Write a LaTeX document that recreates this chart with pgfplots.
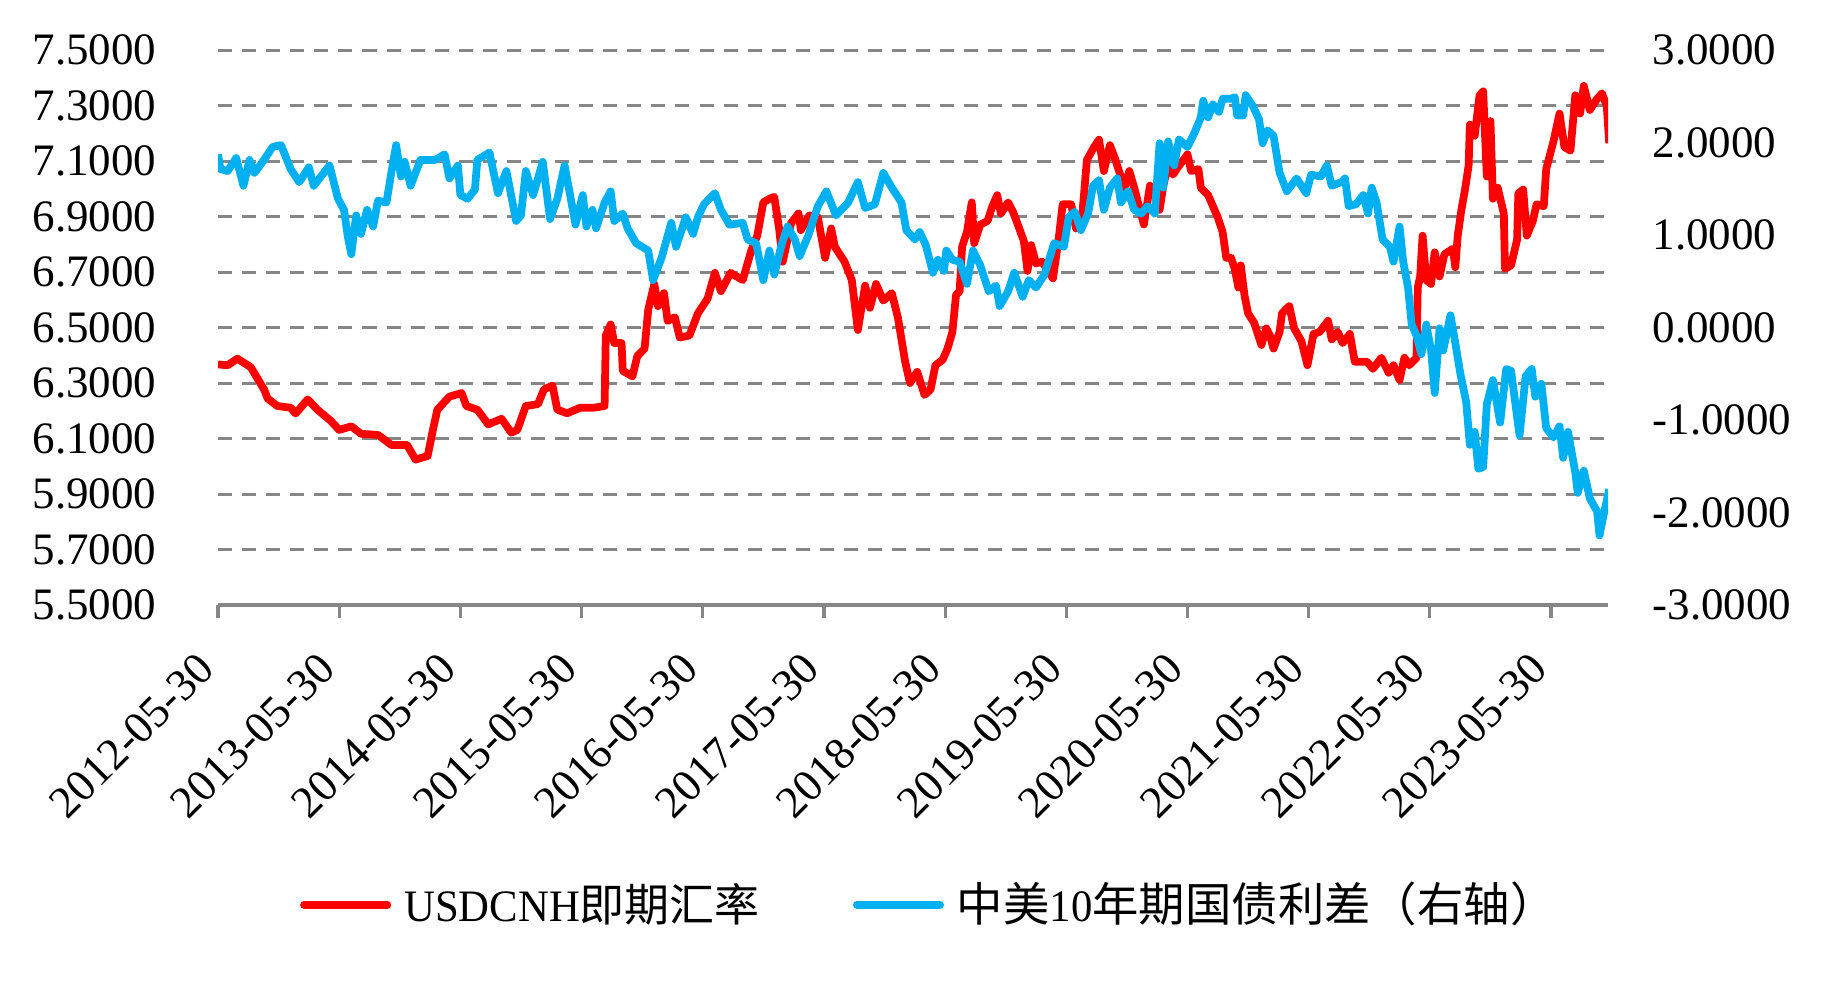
\documentclass[border=0pt]{standalone}
\usepackage{pgfplots}
\pgfplotsset{compat=1.18}
\usepackage{fontspec}
\setmainfont{Liberation Serif}
\newfontfamily\cjk{Noto Sans CJK SC}
\newfontfamily\leglatin[FakeStretch=0.95]{Liberation Serif}
\definecolor{cnhred}{HTML}{FF0000}
\definecolor{sprblue}{HTML}{00B0F0}
\definecolor{gridgray}{HTML}{868686}
\newcommand{\tfont}{\fontsize{12.8}{15}\selectfont}
\begin{document}
\begin{tikzpicture}
\pgfplotsset{
  base/.style={
    width=13.90cm, height=5.55cm, scale only axis,
    xmin=0, xmax=11.47,
    tick label style={font=\tfont},
    /pgf/number format/.cd, fixed, fixed zerofill, precision=4, assume math mode=true, /pgfplots/.cd,
    scaled y ticks=false,
  }
}
\begin{axis}[base,
  at={(0,0)}, anchor=south west,
  ymin=5.5, ymax=7.5,
  ytick={5.5,5.7,5.9,6.1,6.3,6.5,6.7,6.9,7.1,7.3,7.5},
  axis x line*=bottom, axis y line*=left,
  y axis line style={draw=none},
  x axis line style={draw=gridgray, line width=0.9pt, -},
  ytick style={draw=none},
  xtick={0,1,2,3,4,5,6,7,8,9,10,11},
  xticklabels={2012-05-30,2013-05-30,2014-05-30,2015-05-30,2016-05-30,2017-05-30,2018-05-30,2019-05-30,2020-05-30,2021-05-30,2022-05-30,2023-05-30},
  xtick style={draw=gridgray, line width=0.9pt},
  tick align=outside, major tick length=0.13cm,
  xticklabel style={xshift=-0.12cm, yshift=-0.43cm, rotate=45, anchor=east, inner sep=0pt},
  yticklabel style={anchor=east, inner sep=0pt, xshift=-0.48cm},
  ymajorgrids, grid style={draw=gridgray, line width=0.85pt, dash pattern=on 4pt off 2.85pt},
  legend style={at={(0.511,-0.54)}, anchor=center, draw=none, fill=none, font=\tfont,
    legend columns=2, nodes={inner sep=0pt},
    /tikz/every odd column/.append style={column sep=0.13cm},
    /tikz/every even column/.append style={column sep=0.93cm}},
  legend image code/.code={\draw[#1, line width=2.3pt, line cap=round] (0cm,0cm) -- (0.83cm,0cm);},
]
\addplot[cnhred, line width=2.2pt, line join=round, no marks] coordinates {
(0.00,6.367) (0.08,6.364) (0.16,6.388) (0.27,6.357) (0.38,6.277) (0.41,6.244) (0.49,6.217) (0.60,6.211) (0.64,6.190) (0.74,6.241)
(0.82,6.204) (0.93,6.164) (1.00,6.131) (1.10,6.144) (1.18,6.117) (1.32,6.113) (1.43,6.077) (1.56,6.077) (1.63,6.024) (1.73,6.037)
(1.77,6.124) (1.81,6.204) (1.91,6.251) (2.01,6.264) (2.05,6.217) (2.14,6.204) (2.23,6.151) (2.34,6.171) (2.42,6.121) (2.47,6.131)
(2.54,6.217) (2.64,6.224) (2.69,6.277) (2.76,6.291) (2.80,6.204) (2.88,6.191) (2.99,6.211) (3.10,6.211) (3.19,6.217) (3.20,6.471)
(3.24,6.511) (3.27,6.444) (3.33,6.444) (3.34,6.344) (3.42,6.324) (3.46,6.397) (3.52,6.424) (3.55,6.564) (3.60,6.657) (3.63,6.577)
(3.68,6.624) (3.71,6.524) (3.77,6.537) (3.81,6.464) (3.89,6.471) (3.96,6.551) (4.04,6.604) (4.10,6.697) (4.15,6.631) (4.23,6.697)
(4.33,6.671) (4.40,6.777) (4.45,6.831) (4.50,6.951) (4.55,6.964) (4.59,6.971) (4.63,6.857) (4.66,6.737) (4.73,6.877) (4.79,6.911)
(4.81,6.851) (4.88,6.904) (4.95,6.897) (5.01,6.751) (5.06,6.857) (5.09,6.791) (5.17,6.737) (5.23,6.671) (5.28,6.491) (5.34,6.651)
(5.38,6.571) (5.43,6.657) (5.49,6.597) (5.56,6.624) (5.61,6.537) (5.67,6.377) (5.71,6.300) (5.77,6.340) (5.83,6.257) (5.88,6.277)
(5.92,6.364) (5.98,6.384) (6.02,6.424) (6.06,6.484) (6.09,6.617) (6.12,6.631) (6.14,6.791) (6.18,6.844) (6.22,6.951) (6.24,6.804)
(6.29,6.871) (6.35,6.884) (6.39,6.937) (6.43,6.977) (6.46,6.911) (6.52,6.951) (6.56,6.917) (6.60,6.871) (6.65,6.811) (6.68,6.704)
(6.71,6.797) (6.75,6.731) (6.80,6.737) (6.89,6.677) (6.94,6.831) (6.97,6.944) (7.04,6.944) (7.08,6.857) (7.13,6.897) (7.17,7.104)
(7.23,7.151) (7.27,7.177) (7.31,7.064) (7.36,7.157) (7.40,7.111) (7.44,7.057) (7.48,7.004) (7.52,7.064) (7.56,7.004) (7.64,6.871)
(7.69,7.011) (7.73,6.991) (7.77,6.924) (7.80,7.011) (7.84,7.084) (7.88,7.051) (7.92,7.077) (8.00,7.124) (8.03,7.064) (8.09,7.071)
(8.11,7.004) (8.17,6.977) (8.21,6.937) (8.25,6.897) (8.29,6.844) (8.32,6.751) (8.36,6.751) (8.39,6.711) (8.42,6.644) (8.44,6.724)
(8.47,6.617) (8.50,6.551) (8.55,6.517) (8.61,6.437) (8.65,6.497) (8.68,6.471) (8.71,6.424) (8.76,6.484) (8.78,6.551) (8.84,6.577)
(8.88,6.497) (8.94,6.451) (8.99,6.364) (9.04,6.477) (9.09,6.484) (9.16,6.524) (9.19,6.457) (9.24,6.484) (9.28,6.444) (9.34,6.477)
(9.38,6.377) (9.48,6.377) (9.53,6.351) (9.60,6.391) (9.66,6.337) (9.70,6.364) (9.75,6.311) (9.79,6.391) (9.83,6.364) (9.89,6.391)
(9.90,6.644) (9.92,6.684) (9.94,6.831) (9.97,6.671) (10.01,6.657) (10.04,6.771) (10.08,6.684) (10.12,6.764) (10.19,6.784) (10.21,6.717)
(10.23,6.831) (10.26,6.924) (10.29,6.997) (10.32,7.084) (10.33,7.231) (10.37,7.191) (10.41,7.337) (10.44,7.351) (10.47,7.044) (10.50,7.244)
(10.52,6.964) (10.56,7.004) (10.61,6.911) (10.62,6.711) (10.67,6.724) (10.72,6.817) (10.73,6.984) (10.77,6.997) (10.80,6.831) (10.85,6.884)
(10.88,6.944) (10.94,6.937) (10.96,7.071) (11.02,7.171) (11.07,7.271) (11.11,7.151) (11.16,7.137) (11.20,7.337) (11.24,7.271) (11.27,7.371)
(11.32,7.284) (11.38,7.324) (11.42,7.344) (11.46,7.297) (11.48,7.164)
};
\addlegendentry{{\leglatin USDCNH}{\cjk 即期汇率}}
\addlegendimage{sprblue}
\addlegendentry{{\fontsize{13.2}{15}\selectfont\cjk 中美}{\leglatin 10}{\fontsize{13.2}{15}\selectfont\cjk 年期国债利差（右轴）}}
\end{axis}
\begin{axis}[base,
  at={(0,0)}, anchor=south west,
  ymin=-3, ymax=3,
  ytick={-3,-2,-1,0,1,2,3},
  axis x line=none, axis y line*=right,
  y axis line style={draw=none}, ytick style={draw=none},
  yticklabel style={anchor=west, inner sep=0pt, xshift=0.44cm},
]
\addplot[sprblue, line width=2.2pt, line join=round, no marks] coordinates {
(0.00,1.872) (0.02,1.712) (0.08,1.692) (0.15,1.832) (0.21,1.532) (0.26,1.812) (0.30,1.672) (0.38,1.812) (0.45,1.952) (0.52,1.972)
(0.60,1.712) (0.67,1.572) (0.75,1.732) (0.79,1.532) (0.92,1.752) (0.99,1.392) (1.04,1.272) (1.07,0.992) (1.10,0.792) (1.14,1.212)
(1.18,1.012) (1.23,1.272) (1.28,1.092) (1.32,1.372) (1.39,1.352) (1.43,1.672) (1.47,1.972) (1.51,1.632) (1.54,1.792) (1.59,1.532)
(1.67,1.812) (1.79,1.812) (1.87,1.872) (1.91,1.612) (1.98,1.752) (2.00,1.432) (2.06,1.392) (2.12,1.492) (2.14,1.812) (2.24,1.892)
(2.31,1.452) (2.38,1.692) (2.46,1.152) (2.50,1.212) (2.54,1.692) (2.60,1.432) (2.68,1.792) (2.74,1.172) (2.80,1.392) (2.86,1.752)
(2.90,1.472) (2.95,1.112) (3.01,1.432) (3.04,1.092) (3.09,1.272) (3.12,1.072) (3.19,1.352) (3.24,1.472) (3.27,1.152) (3.34,1.232)
(3.38,1.072) (3.45,0.912) (3.55,0.832) (3.59,0.512) (3.66,0.752) (3.74,1.132) (3.78,0.872) (3.86,1.192) (3.92,1.012) (3.96,1.192)
(4.01,1.332) (4.10,1.452) (4.15,1.272) (4.22,1.112) (4.33,1.132) (4.37,0.952) (4.44,0.912) (4.50,0.512) (4.55,0.832) (4.59,0.572)
(4.65,0.892) (4.70,1.092) (4.76,0.952) (4.80,0.772) (4.87,0.992) (4.95,1.312) (5.02,1.472) (5.10,1.212) (5.20,1.352) (5.28,1.572)
(5.34,1.292) (5.42,1.332) (5.49,1.672) (5.56,1.512) (5.64,1.352) (5.68,1.052) (5.75,0.952) (5.79,1.032) (5.84,0.892) (5.90,0.592)
(5.94,0.732) (5.99,0.612) (6.01,0.832) (6.06,0.732) (6.12,0.712) (6.18,0.472) (6.23,0.832) (6.29,0.672) (6.36,0.392) (6.42,0.452)
(6.45,0.232) (6.52,0.392) (6.57,0.592) (6.64,0.332) (6.69,0.512) (6.75,0.432) (6.82,0.572) (6.90,0.912) (6.98,0.872) (7.02,1.192)
(7.07,1.252) (7.12,1.052) (7.18,1.232) (7.22,1.532) (7.27,1.592) (7.31,1.272) (7.36,1.512) (7.42,1.612) (7.45,1.352) (7.51,1.472)
(7.56,1.272) (7.62,1.232) (7.67,1.312) (7.73,1.232) (7.77,1.992) (7.80,1.512) (7.84,2.012) (7.89,1.752) (7.93,2.032) (8.00,1.952)
(8.06,2.112) (8.11,2.272) (8.13,2.452) (8.17,2.272) (8.21,2.412) (8.26,2.332) (8.29,2.472) (8.36,2.472) (8.39,2.492) (8.41,2.292)
(8.46,2.292) (8.48,2.512) (8.54,2.392) (8.59,2.252) (8.62,1.992) (8.66,2.132) (8.71,2.072) (8.76,1.672) (8.82,1.472) (8.90,1.612)
(8.98,1.452) (9.02,1.652) (9.10,1.632) (9.15,1.752) (9.19,1.532) (9.27,1.572) (9.30,1.612) (9.33,1.312) (9.39,1.332) (9.45,1.432)
(9.49,1.232) (9.52,1.512) (9.56,1.352) (9.61,0.952) (9.67,0.872) (9.70,0.712) (9.75,1.092) (9.78,0.712) (9.82,0.432) (9.85,0.032)
(9.89,-0.088) (9.93,-0.288) (9.97,0.032) (10.01,-0.248) (10.04,-0.708) (10.08,-0.008) (10.11,-0.248) (10.17,0.132) (10.21,-0.168) (10.25,-0.488)
(10.30,-0.808) (10.33,-1.268) (10.37,-1.128) (10.40,-1.528) (10.44,-1.508) (10.47,-0.828) (10.52,-0.568) (10.58,-1.028) (10.63,-0.448) (10.67,-0.468)
(10.74,-1.168) (10.79,-0.528) (10.84,-0.448) (10.87,-0.748) (10.92,-0.608) (10.96,-1.088) (11.02,-1.188) (11.07,-1.068) (11.10,-1.408) (11.14,-1.128)
(11.20,-1.568) (11.22,-1.788) (11.27,-1.548) (11.32,-1.848) (11.38,-1.988) (11.40,-2.248) (11.43,-2.048) (11.48,-1.748)
};
\end{axis}
\path[use as bounding box] (-2.18cm,-3.75cm) rectangle (16.29cm,6.05cm);
\end{tikzpicture}
\end{document}
